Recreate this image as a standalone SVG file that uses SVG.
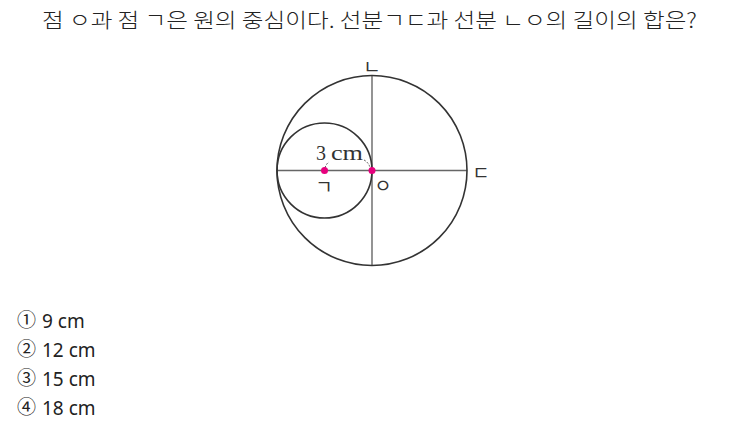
<svg xmlns="http://www.w3.org/2000/svg" width="734" height="433" viewBox="0 0 734 433">
<style>
.t{font-family:"Noto Sans CJK KR","Noto Sans",sans-serif;font-size:20.5px;font-weight:300;fill:#222}
.o{font-family:"Noto Sans CJK KR","Noto Sans",sans-serif;font-size:19px;fill:#222}
.on{font-family:"Noto Sans","Noto Sans CJK KR",sans-serif;font-size:19px;fill:#222}
.c{fill:none;stroke:#333;stroke-width:1.6}
.l{stroke:#666;stroke-width:1.4}
.j{font-family:"Noto Sans CJK KR",sans-serif;font-size:19px;fill:#333}
.s{font-family:"Liberation Serif",serif;font-size:20px;fill:#333}
.d{fill:#e6007e}
.dash{fill:none;stroke:#555;stroke-width:1;stroke-dasharray:2 1.5}
</style>
<rect width="734" height="433" fill="#fff"/>
<g id="title"><text class="t" x="42" y="28" textLength="655" lengthAdjust="spacingAndGlyphs">점 ㅇ과 점 ㄱ은 원의 중심이다. 선분ㄱㄷ과 선분 ㄴㅇ의 길이의 합은?</text></g>
<g id="connectors">
<line class="l" x1="277" y1="170.5" x2="467" y2="170.5"/>
<line class="l" x1="372" y1="76" x2="372" y2="265"/>
<path class="dash" d="M325,168 Q326,164 329,162"/>
<path class="dash" d="M364,160 Q368,162 370,167"/>
</g>
<g id="bigCircle"><circle class="c" cx="372" cy="170.5" r="95"/></g>
<g id="smallCircle"><circle class="c" cx="324.5" cy="170.5" r="47.5"/></g>
<g id="pointG"><circle class="d" cx="324.5" cy="170.5" r="3.5"/><text class="j" x="324" y="194" text-anchor="middle">ㄱ</text></g>
<g id="pointO"><circle class="d" cx="372" cy="170.5" r="3.5"/><text class="j" x="383" y="193" text-anchor="middle">ㅇ</text></g>
<g id="labelN"><text class="j" x="372" y="74" text-anchor="middle">ㄴ</text></g>
<g id="labelD"><text class="j" x="481" y="180" text-anchor="middle">ㄷ</text></g>
<g id="radius"><text class="s" x="316" y="160">3 <tspan x="331" textLength="32" lengthAdjust="spacingAndGlyphs">cm</tspan></text></g>
<g id="options">
<text class="o" x="17" y="327">①</text><text class="on" x="42" y="328">9 cm</text>
<text class="o" x="17" y="356">②</text><text class="on" x="42" y="357">12 cm</text>
<text class="o" x="17" y="385">③</text><text class="on" x="42" y="386">15 cm</text>
<text class="o" x="17" y="414">④</text><text class="on" x="42" y="415">18 cm</text>
</g>
</svg>
